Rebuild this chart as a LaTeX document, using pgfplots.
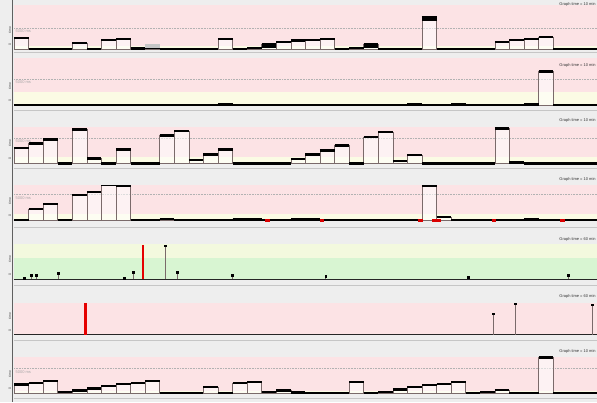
\documentclass[border=0pt]{standalone}
\usepackage{fontspec}
\setmainfont{Liberation Sans}
\usepackage{pgfplots}
\pgfplotsset{compat=1.18}
\usepackage{pgfplotstable}
\definecolor{bgc}{HTML}{EEEEEE}
\definecolor{pinkb}{HTML}{FCE3E5}
\definecolor{creamb}{HTML}{FBFBE4}
\definecolor{greenb}{HTML}{D8F5D2}
\definecolor{yellb}{HTML}{F3F9DE}
\definecolor{edgec}{HTML}{7A6A6A}

% panel 1 (bar heights in px, 15 s intervals)
\pgfplotstableread{
x h
0 11
1 0
2 0
3 0
4 6
5 0
6 9
7 10
8 0.5
9 1.5
10 0
11 0
12 0
13 0
14 10
15 0
16 1
17 5
18 6.6
19 8.3
20 8.6
21 10
22 0
23 1
24 5
25 0
26 0
27 0
28 32
29 0
30 0
31 0
32 0
33 7
34 8.7
35 10
36 11.7
37 0
38 0
39 0
40 0
}\pone
\pgfplotstableread{
x h
0 0.3
1 0.3
2 0.3
3 0.3
4 0.3
5 0.3
6 0.3
7 0.3
8 0.3
9 0.3
10 0.3
11 0.3
12 0.3
13 0.3
14 1
15 0.3
16 0.3
17 0.3
18 0.3
19 0.3
20 0.3
21 0.3
22 0.3
23 0.3
24 0.3
25 0.3
26 0.3
27 1
28 0.3
29 0.3
30 1
31 0.3
32 0.3
33 0.3
34 0.3
35 1
36 34
37 0.5
38 0.3
39 0.3
40 0
}\ptwo
\pgfplotstableread{
x h
0 15.6
1 20
2 24.3
3 0
4 34.3
5 5
6 0
7 14.3
8 0
9 0
10 28.3
11 32.6
12 3.3
13 9.3
14 14
15 0
16 0
17 0
18 0
19 4.3
20 9.3
21 13.3
22 18.3
23 0
24 26.6
25 31.6
26 2.6
27 8.3
28 0
29 0
30 0
31 0
32 0
33 35
34 1
35 0
36 0
37 0
38 0
39 0
40 0
}\pthree
\pgfplotstableread{
x h
0 0
1 11
2 16.3
3 0
4 25
5 28
6 35
7 34.3
8 0.5
9 0
10 1
11 0.5
12 0.3
13 0.3
14 0.3
15 0.8
16 0.8
17 0.3
18 0.3
19 0.8
20 0.8
21 0.3
22 0.3
23 0.3
24 0.3
25 0.3
26 0.3
27 0.3
28 34
29 3
30 0.3
31 0.3
32 0.3
33 0.3
34 0.3
35 0.8
36 0.3
37 0.3
38 0.3
39 0.3
40 0
}\pfour
\pgfplotstableread{
x u
17.2 0.4
21.0 0.3
27.7 0.4
28.7 0.6
32.8 0.3
37.5 0.3
}\pfourred
\pgfplotstableread{
x h
0.72 1
1.2 4
1.54 4
3.05 6
7.57 1
8.18 6.7
10.38 33.3
11.2 6.7
14.97 4
21.4 3
31.2 2
38.05 4
}\pfive
\pgfplotstableread{
x h
8.87 34
}\pfivered
\pgfplotstableread{
x h
32.9 21
34.4 31
39.7 30
}\psix
\pgfplotstableread{
x h
4.9 32.5
}\psixred
\pgfplotstableread{
x h
0 8.4
1 10
2 12
3 1
4 2.4
5 4.4
6 6.7
7 8.7
8 10
9 12
10 0
11 0
12 0
13 6
14 0
15 10
16 11
17 1
18 2.4
19 0.5
20 0
21 0
22 0
23 11
24 0
25 1
26 3.4
27 5.7
28 7.7
29 8.7
30 11
31 0
32 1
33 2.7
34 0
35 0
36 35.4
37 0
38 0
39 0
40 0
}\pseven

\pgfplotsset{
  panel/.style={scale only axis, width=583bp, xmin=0, xmax=40, ymin=-2,
    hide axis, anchor=south west, enlargelimits=false},
  barsty/.style={ybar interval, fill=white, fill opacity=0.55, draw=edgec, line width=0.5bp},
  topsty/.style={-, quiver={u=1,v=0}, draw=black, line width=2.4bp},
}
\tikzset{dashsty/.style={densely dotted, gray!60, line width=0.6bp}}
\newcommand{\glab}[2]{\node[anchor=north east, inner sep=0pt, font=\fontsize{4}{4.5}\selectfont, text=black!80] at (596bp,-#1bp) {#2};}
\newcommand{\mlab}[1]{\node[anchor=west, inner sep=0pt, font=\fontsize{4}{4.5}\selectfont, text=gray!70] at (15.5bp,-#1bp) {5000 ms};}
\newcommand{\ylab}[1]{\node[rotate=90, inner sep=0pt, font=\fontsize{3.5}{4}\selectfont, text=black!70] at (10bp,-#1bp) {time};}
\newcommand{\zlab}[1]{\node[rotate=90, inner sep=0pt, font=\fontsize{3.5}{4}\selectfont, text=black!70] at (10bp,-#1bp) {0};}

\begin{document}
\begin{tikzpicture}
\fill[bgc] (0,0) rectangle (597bp,-402bp);

% ---------- panel 1
\begin{axis}[panel, at={(14bp,-50.5bp)}, height=45.5bp, ymax=43.5]
\fill[pinkb] (axis cs:0,0) rectangle (axis cs:40,43.5);
\fill[creamb] (axis cs:0,0) rectangle (axis cs:40,3);
\draw[dashsty] (axis cs:0,20.5) -- (axis cs:40,20.5);
\addplot[barsty] table[x=x,y=h] {\pone};
\addplot[topsty] table[x=x,y=h] {\pone};
\addplot[-, quiver={u=1,v=0}, draw=black, line width=4.6bp] coordinates {(28,30.5) (17,3) (24,3)};
\addplot[-, quiver={u=1,v=0}, draw=gray!45, line width=4bp] coordinates {(9,3)};
\end{axis}

% ---------- panel 2
\begin{axis}[panel, at={(14bp,-107bp)}, height=49bp, ymax=47]
\fill[pinkb] (axis cs:0,0) rectangle (axis cs:40,47);
\fill[creamb] (axis cs:0,0) rectangle (axis cs:40,13);
\draw[dashsty] (axis cs:0,26) -- (axis cs:40,26);
\addplot[barsty] table[x=x,y=h] {\ptwo};
\addplot[topsty] table[x=x,y=h] {\ptwo};
\end{axis}

% ---------- panel 3
\begin{axis}[panel, at={(14bp,-165.3bp)}, height=38.6bp, ymax=36.6]
\fill[pinkb] (axis cs:0,0) rectangle (axis cs:40,36.6);
\fill[creamb] (axis cs:0,0) rectangle (axis cs:40,6.6);
\draw[dashsty] (axis cs:0,25.6) -- (axis cs:40,25.6);
\addplot[barsty] table[x=x,y=h] {\pthree};
\addplot[topsty] table[x=x,y=h] {\pthree};
\end{axis}

% ---------- panel 4
\begin{axis}[panel, at={(14bp,-222bp)}, height=37bp, ymax=35]
\fill[pinkb] (axis cs:0,0) rectangle (axis cs:40,35);
\fill[creamb] (axis cs:0,0) rectangle (axis cs:40,6.7);
\draw[dashsty] (axis cs:0,26) -- (axis cs:40,26);
\addplot[barsty] table[x=x,y=h] {\pfour};
\addplot[topsty] table[x=x,y=h] {\pfour};
\addplot[-, quiver={u=\thisrow{u},v=0}, draw=red!85!black, line width=2.6bp] table[x=x,y expr=0] {\pfourred};
\end{axis}

% ---------- panel 5
\begin{axis}[panel, at={(14bp,-281bp)}, height=37bp, ymax=35]
\fill[greenb] (axis cs:0,0) rectangle (axis cs:40,21);
\fill[yellb] (axis cs:0,21) rectangle (axis cs:40,35);
\draw[black!85, line width=1.4bp] (axis cs:0,0) -- (axis cs:40,0);
\addplot[ycomb, draw=edgec, line width=0.6bp, mark=square*, mark size=0.8bp, mark options={black}] table[x=x,y=h] {\pfive};
\addplot[ycomb, draw=red!90!black, line width=2.4bp, no marks] table[x=x,y=h] {\pfivered};
\end{axis}

% ---------- panel 6
\begin{axis}[panel, at={(14bp,-336.5bp)}, height=33.5bp, ymax=31.5]
\fill[pinkb] (axis cs:0,0) rectangle (axis cs:40,31.5);
\draw[black!85, line width=1.4bp] (axis cs:0,0) -- (axis cs:40,0);
\addplot[ycomb, draw=edgec, line width=0.6bp, mark=square*, mark size=0.8bp, mark options={black}] table[x=x,y=h] {\psix};
\addplot[ycomb, draw=red!90!black, line width=2.4bp, no marks] table[x=x,y=h] {\psixred};
\end{axis}

% ---------- panel 7
\begin{axis}[panel, at={(14bp,-394.7bp)}, height=38bp, ymax=36]
\fill[pinkb] (axis cs:0,0) rectangle (axis cs:40,36);
\fill[creamb] (axis cs:0,0) rectangle (axis cs:40,2);
\draw[dashsty] (axis cs:0,24.4) -- (axis cs:40,24.4);
\addplot[barsty] table[x=x,y=h] {\pseven};
\addplot[topsty] table[x=x,y=h] {\pseven};
\end{axis}

% decorations
\draw[gray!75!black, line width=0.7bp] (12.5bp,0) -- (12.5bp,-402bp);
\foreach \yy in {52,110,168,227,285,340,398}{
  \draw[gray!45, line width=0.4bp] (14bp,-\yy bp) -- (597bp,-\yy bp);
}
\glab{2}{Graph time = 10 min}
\glab{63}{Graph time = 10 min}
\glab{118}{Graph time = 10 min}
\glab{177}{Graph time = 10 min}
\glab{237}{Graph time = 60 min}
\glab{294}{Graph time = 60 min}
\glab{349}{Graph time = 10 min}
\mlab{31}\mlab{82}\mlab{141}\mlab{198}\mlab{372}
\ylab{30}\ylab{86}\ylab{143}\ylab{201}\ylab{259}\ylab{316}\ylab{374}
\zlab{44}\zlab{100}\zlab{158}\zlab{215}\zlab{274}\zlab{330}\zlab{388}
\end{tikzpicture}
\end{document}
